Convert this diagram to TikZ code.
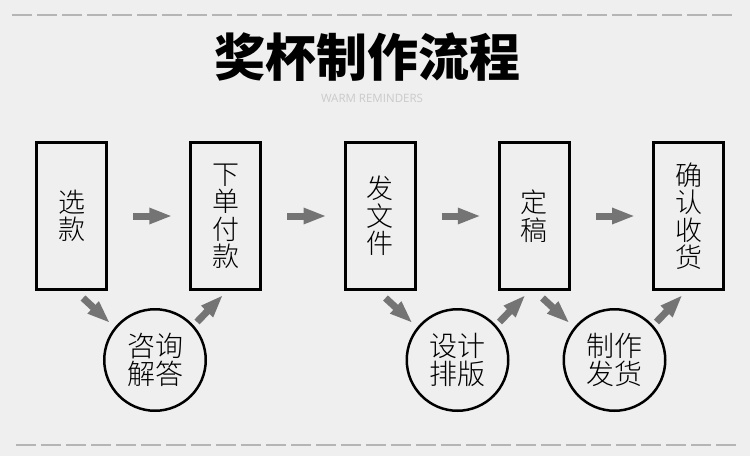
\documentclass[tikz,border=0pt]{standalone}
\usepackage{fontspec}
\setmainfont{Noto Sans CJK SC Light}
\newfontfamily\titlefont{Noto Sans CJK SC Black}
\newfontfamily\subfont{Open Sans}
\usetikzlibrary{arrows.meta}
\definecolor{bg}{HTML}{EFEFEF}
\definecolor{arrowgray}{HTML}{747474}
\definecolor{dashgray}{HTML}{B5B5B5}
\definecolor{subgray}{HTML}{CACACA}
\tikzset{
  stepbox/.style={draw=black, line width=3pt, minimum width=70, minimum height=147, inner sep=0pt, align=center, font=\fontsize{27}{27.5}\selectfont},
  stepcircle/.style={draw=black, circle, line width=2.5pt, minimum size=101.5, inner sep=0pt, align=center, font=\fontsize{28}{28}\selectfont},
  flowarrow/.style={draw=arrowgray, line width=7pt, -{Triangle[length=23pt,width=15pt]}, arrowgray},
  sepline/.style={draw=dashgray, line width=1.2pt, dash pattern=on 20pt off 5pt}
}
\begin{document}
\begin{tikzpicture}[x=1pt,y=-1pt]
\fill[bg] (0,0) rectangle (750,456);
\useasboundingbox (0,0) rectangle (750,456);
\draw[sepline] (12,15) -- (734,15);
\draw[sepline] (16,445) -- (736,445);
\node (title) at (367,57) {\titlefont\fontsize{51}{51}\selectfont 奖杯制作流程};
\node[text=subgray] (sub) at (372,98) {\subfont\fontsize{11.5}{11.5}\selectfont WARM REMINDERS};
\node[stepbox] (b1) at (71.5,216) {选\\款};
\node[stepbox] (b2) at (225.75,216) {下\\单\\付\\款};
\node[stepbox] (b3) at (380,216) {发\\文\\件};
\node[stepbox] (b4) at (534.25,216) {定\\稿};
\node[stepbox] (b5) at (688.5,216) {确\\认\\收\\货};
\node[stepcircle] (c1) at (155,360) {咨询\\解答};
\node[stepcircle] (c2) at (457.5,360) {设计\\排版};
\node[stepcircle] (c3) at (614.5,360) {制作\\发货};
\foreach \a/\b in {b1/b2,b2/b3,b3/b4,b4/b5}
  \draw[flowarrow, shorten <=25pt, shorten >=17pt] (\a.east) -- (\b.west);
\foreach \c in {c1,c2,c3}{
  \coordinate (\c-ia) at ([shift={(-72,-62)}]\c.center);
  \coordinate (\c-ib) at ([shift={(-45,-37)}]\c.center);
  \coordinate (\c-oa) at ([shift={(42,-38)}]\c.center);
  \coordinate (\c-ob) at ([shift={(68,-65)}]\c.center);
  \draw[flowarrow] (\c-ia) -- (\c-ib);
  \draw[flowarrow] (\c-oa) -- (\c-ob);
}
\end{tikzpicture}
\end{document}
